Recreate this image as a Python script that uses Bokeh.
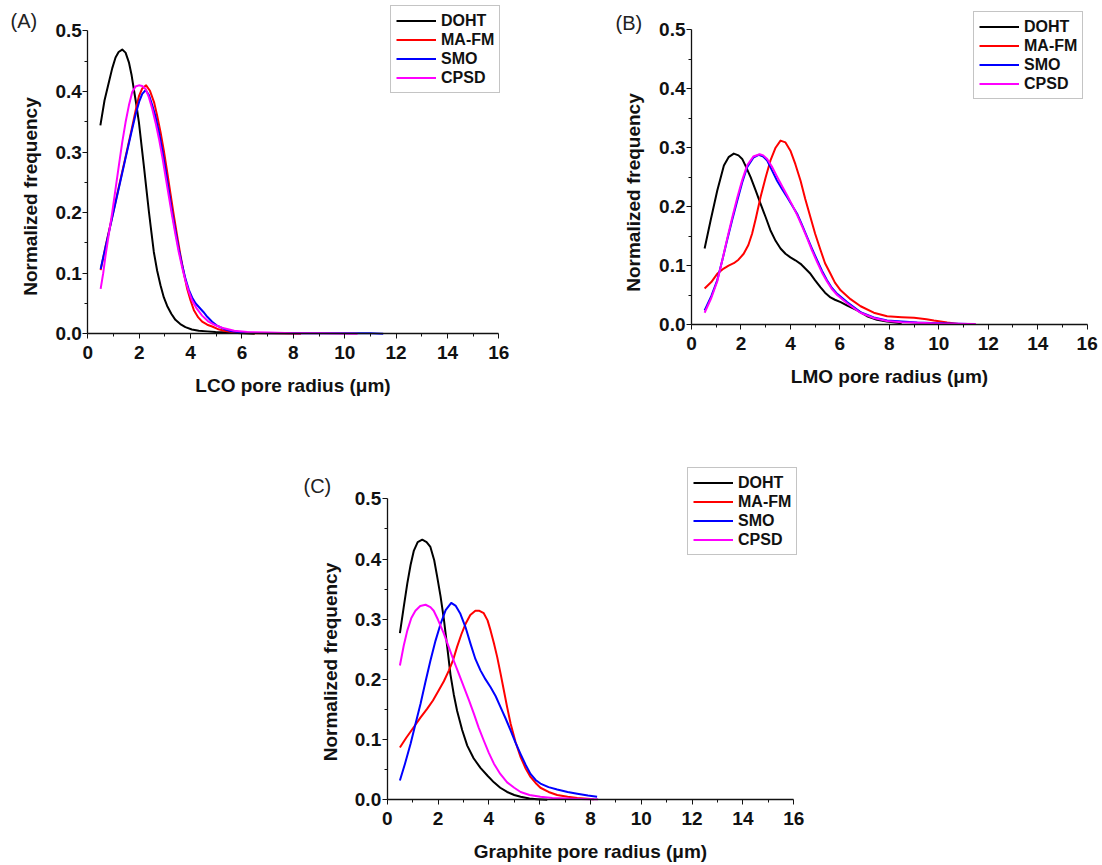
import math

from bokeh.plotting import figure
from bokeh.models import Range1d, FixedTicker, PrintfTickFormatter, Legend, LegendItem, Label
from bokeh.layouts import column, row
from bokeh.embed import file_html
from bokeh.resources import INLINE

# ---------------- data: normalized pore-size frequency ----------------
series_names = ["DOHT", "MA-FM", "SMO", "CPSD"]
series_colors = ["#000000", "#ff0000", "#0000ff", "#ff00ff"]

x_ticks = [0, 2, 4, 6, 8, 10, 12, 14, 16]
x_minor = [1, 3, 5, 7, 9, 11, 13, 15]
y_ticks = [0.0, 0.1, 0.2, 0.3, 0.4, 0.5]
y_minor = [0.05, 0.15, 0.25, 0.35, 0.45]

# (A) LCO
lco_doht_x = [0.49, 0.65, 0.82, 0.95, 1.08, 1.2, 1.34, 1.47, 1.6, 1.7, 1.79, 1.89, 1.99, 2.08, 2.18, 2.28,
              2.38, 2.48, 2.57, 2.7, 2.83, 2.96, 3.09, 3.25, 3.41, 3.6, 3.8, 4.05, 4.32, 4.65, 4.97, 5.5, 6.0, 6.5]
lco_doht_y = [0.344, 0.385, 0.415, 0.438, 0.456, 0.465, 0.469, 0.464, 0.448, 0.428, 0.404, 0.378, 0.349, 0.315,
              0.278, 0.239, 0.201, 0.166, 0.135, 0.104, 0.08, 0.06, 0.046, 0.033, 0.023, 0.016, 0.011, 0.007,
              0.005, 0.004, 0.003, 0.002, 0.001, 0.0]
lco_mafm_x = [0.5, 0.7, 0.95, 1.2, 1.47, 1.7, 1.86, 1.99, 2.12, 2.27, 2.42, 2.58, 2.7, 2.83, 2.96, 3.09, 3.22,
              3.35, 3.48, 3.61, 3.74, 3.87, 4.0, 4.13, 4.3, 4.45, 4.65, 4.84, 5.05, 5.3, 5.6, 6.0, 6.5, 7.0, 8.3]
lco_mafm_y = [0.105, 0.146, 0.193, 0.241, 0.292, 0.336, 0.368, 0.392, 0.405, 0.41, 0.401, 0.382, 0.36, 0.333,
              0.302, 0.267, 0.231, 0.195, 0.161, 0.129, 0.1, 0.074, 0.055, 0.039, 0.027, 0.02, 0.015, 0.012,
              0.008, 0.005, 0.003, 0.002, 0.001, 0.001, 0.0]
lco_smo_x = [0.5, 0.7, 0.95, 1.2, 1.47, 1.7, 1.86, 2.0, 2.12, 2.25, 2.38, 2.51, 2.64, 2.77, 2.9, 3.02, 3.15,
             3.28, 3.41, 3.54, 3.67, 3.8, 3.93, 4.06, 4.2, 4.35, 4.5, 4.65, 4.84, 5.05, 5.3, 5.6, 6.0, 6.5,
             7.0, 8.0, 9.0, 10.0, 11.0, 11.5]
lco_smo_y = [0.107, 0.145, 0.192, 0.239, 0.29, 0.333, 0.362, 0.383, 0.396, 0.402, 0.394, 0.377, 0.358, 0.333,
             0.303, 0.272, 0.237, 0.201, 0.17, 0.14, 0.114, 0.091, 0.073, 0.06, 0.05, 0.043, 0.036, 0.028,
             0.02, 0.013, 0.008, 0.004, 0.002, 0.0015, 0.001, 0.001, 0.001, 0.001, 0.001, 0.0]
lco_cpsd_x = [0.5, 0.6, 0.69, 0.82, 0.95, 1.08, 1.21, 1.34, 1.47, 1.6, 1.73, 1.86, 1.99, 2.12, 2.25, 2.38,
              2.51, 2.64, 2.77, 2.9, 3.02, 3.15, 3.28, 3.41, 3.54, 3.67, 3.8, 3.93, 4.06, 4.25, 4.45, 4.7,
              4.97, 5.3, 5.7, 6.2, 7.0, 8.0, 9.0, 10.5]
lco_cpsd_y = [0.074, 0.1, 0.129, 0.165, 0.2, 0.239, 0.278, 0.316, 0.349, 0.377, 0.399, 0.408, 0.41, 0.409,
              0.404, 0.39, 0.371, 0.348, 0.322, 0.292, 0.261, 0.228, 0.195, 0.164, 0.135, 0.11, 0.088, 0.07,
              0.055, 0.041, 0.03, 0.02, 0.014, 0.009, 0.005, 0.003, 0.002, 0.001, 0.001, 0.0]

# (B) LMO
lmo_doht_x = [0.53, 0.77, 1.04, 1.31, 1.5, 1.71, 1.9, 2.05, 2.2, 2.39, 2.59, 2.79, 3.0, 3.19, 3.4, 3.6, 3.8,
              4.0, 4.2, 4.41, 4.6, 4.81, 5.0, 5.22, 5.4, 5.62, 5.8, 6.03, 6.3, 6.7, 7.1, 7.5, 7.9, 8.5]
lmo_doht_y = [0.129, 0.176, 0.227, 0.27, 0.284, 0.29, 0.287, 0.281, 0.268, 0.25, 0.228, 0.205, 0.182, 0.16,
              0.142, 0.129, 0.12, 0.114, 0.109, 0.103, 0.095, 0.086, 0.075, 0.063, 0.054, 0.046, 0.042, 0.038,
              0.032, 0.024, 0.014, 0.008, 0.005, 0.002]
lmo_mafm_x = [0.53, 0.8, 1.04, 1.3, 1.5, 1.71, 1.9, 2.11, 2.3, 2.45, 2.6, 2.79, 3.0, 3.19, 3.4, 3.6, 3.8, 4.0,
              4.2, 4.41, 4.6, 4.81, 5.0, 5.22, 5.4, 5.62, 5.8, 6.03, 6.43, 6.84, 7.37, 7.91, 8.5, 9.0, 9.5,
              9.8, 10.34, 10.8]
lmo_mafm_y = [0.061, 0.072, 0.086, 0.095, 0.1, 0.104, 0.11, 0.12, 0.135, 0.154, 0.18, 0.216, 0.25, 0.278,
              0.3, 0.312, 0.309, 0.295, 0.272, 0.244, 0.213, 0.182, 0.154, 0.126, 0.104, 0.086, 0.071, 0.058,
              0.043, 0.031, 0.02, 0.014, 0.0125, 0.0113, 0.009, 0.0068, 0.0034, 0.001]
lmo_smo_x = [0.53, 0.8, 1.04, 1.24, 1.44, 1.65, 1.85, 2.05, 2.25, 2.5, 2.72, 2.9, 3.06, 3.25, 3.46, 3.66, 3.87,
             4.07, 4.27, 4.47, 4.68, 4.88, 5.08, 5.28, 5.48, 5.68, 5.89, 6.29, 6.83, 7.37, 7.91, 8.5, 9.13,
             10.0, 11.2]
lmo_smo_y = [0.024, 0.048, 0.075, 0.108, 0.143, 0.178, 0.21, 0.241, 0.267, 0.283, 0.288, 0.285, 0.278, 0.262,
             0.244, 0.23, 0.216, 0.202, 0.188, 0.169, 0.148, 0.128, 0.109, 0.091, 0.075, 0.062, 0.052, 0.038,
             0.021, 0.012, 0.007, 0.005, 0.0034, 0.002, 0.001]
lmo_cpsd_x = [0.53, 0.8, 1.04, 1.24, 1.44, 1.65, 1.85, 2.05, 2.25, 2.5, 2.76, 2.9, 3.06, 3.25, 3.46, 3.66, 3.87,
              4.07, 4.27, 4.47, 4.68, 4.88, 5.08, 5.28, 5.48, 5.68, 5.89, 6.29, 6.83, 7.37, 7.91, 8.5, 9.13,
              10.0, 11.5]
lmo_cpsd_y = [0.02, 0.045, 0.073, 0.108, 0.145, 0.182, 0.215, 0.245, 0.27, 0.285, 0.289, 0.287, 0.281, 0.268,
              0.251, 0.235, 0.219, 0.203, 0.186, 0.167, 0.146, 0.125, 0.106, 0.088, 0.073, 0.06, 0.05, 0.036,
              0.02, 0.011, 0.006, 0.004, 0.003, 0.0015, 0.001]

# (C) Graphite
gra_doht_x = [0.5, 0.65, 0.79, 0.92, 1.05, 1.2, 1.38, 1.55, 1.7, 1.85, 1.97, 2.1, 2.23, 2.36, 2.49, 2.62, 2.75,
              2.95, 3.15, 3.4, 3.67, 3.95, 4.2, 4.45, 4.72, 5.0, 5.25, 5.6, 5.9, 6.3]
gra_doht_y = [0.277, 0.32, 0.359, 0.39, 0.414, 0.428, 0.432, 0.428, 0.42, 0.398, 0.37, 0.338, 0.3, 0.255,
              0.208, 0.175, 0.148, 0.116, 0.09, 0.069, 0.053, 0.04, 0.029, 0.02, 0.013, 0.008, 0.005, 0.002,
              0.001, 0.0]
gra_mafm_x = [0.5, 0.75, 1.05, 1.3, 1.57, 1.8, 2.03, 2.23, 2.43, 2.6, 2.75, 2.92, 3.08, 3.27, 3.47, 3.63, 3.8,
              3.95, 4.07, 4.2, 4.33, 4.46, 4.59, 4.72, 4.86, 5.05, 5.25, 5.45, 5.64, 5.84, 6.03, 6.35, 6.69,
              7.1, 7.48, 8.13]
gra_mafm_y = [0.087, 0.103, 0.121, 0.136, 0.151, 0.165, 0.182, 0.197, 0.215, 0.233, 0.254, 0.275, 0.292,
              0.307, 0.314, 0.314, 0.31, 0.298, 0.281, 0.26, 0.237, 0.21, 0.182, 0.154, 0.126, 0.096, 0.071,
              0.052, 0.038, 0.028, 0.02, 0.013, 0.008, 0.005, 0.003, 0.001]
gra_smo_x = [0.5, 0.7, 0.92, 1.1, 1.31, 1.5, 1.7, 1.9, 2.1, 2.3, 2.52, 2.7, 2.88, 3.08, 3.28, 3.47, 3.67, 3.87,
             4.07, 4.27, 4.46, 4.66, 4.86, 5.05, 5.25, 5.45, 5.64, 5.84, 6.03, 6.35, 6.69, 7.1, 7.48, 7.9, 8.26]
gra_smo_y = [0.032, 0.06, 0.093, 0.124, 0.159, 0.195, 0.231, 0.264, 0.292, 0.315, 0.327, 0.322, 0.309, 0.287,
             0.259, 0.234, 0.215, 0.2, 0.187, 0.172, 0.154, 0.135, 0.115, 0.095, 0.076, 0.058, 0.043, 0.033,
             0.027, 0.021, 0.017, 0.013, 0.01, 0.007, 0.005]
gra_cpsd_x = [0.5, 0.65, 0.79, 0.95, 1.11, 1.3, 1.51, 1.7, 1.83, 2.0, 2.23, 2.42, 2.62, 2.82, 3.02, 3.22, 3.41,
              3.6, 3.8, 4.0, 4.2, 4.45, 4.72, 5.0, 5.25, 5.6, 6.03, 6.5, 7.08, 7.6, 8.13, 8.3]
gra_cpsd_y = [0.223, 0.256, 0.281, 0.302, 0.314, 0.322, 0.324, 0.32, 0.314, 0.299, 0.276, 0.254, 0.231, 0.209,
              0.187, 0.165, 0.143, 0.12, 0.0985, 0.078, 0.06, 0.043, 0.029, 0.02, 0.013, 0.008, 0.005, 0.003,
              0.002, 0.0015, 0.001, 0.001]

FONT = "Liberation Sans"
INK = "#111111"


def make_panel(width, height, x0, y0, px_x, px_y, xlabel, tag, tag_px, ylabel_px, curves, legend_xy):
    """One panel whose frame fills the whole canvas; the axes sit at x=0 / y=0.

    x0, y0: canvas pixel column / row where the data origin lies.
    px_x, px_y: pixels per data unit along each axis.
    tag_px, ylabel_px: canvas pixel centres of the panel letter and the y title.
    """
    def to_data(px, py):
        return (px - x0) / px_x, (y0 - py) / px_y

    p = figure(width=width, height=height, output_backend="svg", toolbar_location=None,
               x_range=Range1d(-x0 / px_x, (width - x0) / px_x),
               y_range=Range1d(-(height - y0) / px_y, y0 / px_y),
               min_border=0, min_border_left=0, min_border_right=0,
               min_border_top=0, min_border_bottom=0)
    p.outline_line_color = None
    p.grid.visible = False
    p.background_fill_color = "white"
    p.border_fill_color = "white"

    p.xaxis.fixed_location = 0
    p.yaxis.fixed_location = 0
    p.xaxis.bounds = (0, 16)
    p.yaxis.bounds = (0, 0.5)
    p.xaxis.ticker = FixedTicker(ticks=x_ticks, minor_ticks=x_minor)
    p.yaxis.ticker = FixedTicker(ticks=y_ticks, minor_ticks=y_minor)
    p.yaxis.formatter = PrintfTickFormatter(format="%.1f")
    for ax in (p.xaxis[0], p.yaxis[0]):
        ax.axis_line_color = INK
        ax.axis_line_width = 1.3
        ax.major_tick_line_color = INK
        ax.minor_tick_line_color = INK
        ax.major_tick_out = 5
        ax.major_tick_in = 0
        ax.minor_tick_out = 3
        ax.minor_tick_in = 0
        ax.major_label_text_font = FONT
        ax.major_label_text_font_style = "bold"
        ax.major_label_text_font_size = "19px"
        ax.major_label_text_color = INK
        ax.axis_label_text_font = FONT
        ax.axis_label_text_font_style = "bold"
        ax.axis_label_text_font_size = "19px"
        ax.axis_label_text_color = INK
    p.xaxis.major_label_standoff = 7
    p.yaxis.major_label_standoff = 1
    p.xaxis.axis_label_standoff = 13
    p.xaxis.axis_label = xlabel

    # y title sits a little below the middle of the axis
    lx, ly = to_data(*ylabel_px)
    p.add_layout(Label(x=lx, y=ly, text="Normalized frequency", angle=math.pi / 2,
                       text_font=FONT, text_font_style="bold", text_font_size="19px",
                       text_color=INK, text_align="center", text_baseline="middle"))

    items = []
    for (xs, ys), name, color in zip(curves, series_names, series_colors):
        r = p.line(xs, ys, line_color=color, line_width=2, line_join="round")
        items.append(LegendItem(label=name, renderers=[r]))

    legend = Legend(items=items, location=legend_xy,
                    label_text_font=FONT, label_text_font_style="bold",
                    label_text_font_size="16px", label_text_color=INK,
                    glyph_width=40, glyph_height=19, label_height=19,
                    label_standoff=5, padding=5, spacing=0, margin=0,
                    border_line_color="#8a8a8a", border_line_width=1,
                    background_fill_color="white", background_fill_alpha=1)
    p.add_layout(legend)

    # panel letter, up-left of the y axis
    tx, ty = to_data(*tag_px)
    p.add_layout(Label(x=tx, y=ty, text=tag, text_font=FONT, text_font_size="20px",
                       text_color="#222222", text_baseline="middle", text_align="left"))
    return p


pa = make_panel(551, 420, 87.3, 333.3, 25.69, 606.0, "LCO pore radius (\u03bcm)", "(A)", (10, 20), (29.5, 196),
                [(lco_doht_x, lco_doht_y), (lco_mafm_x, lco_mafm_y), (lco_smo_x, lco_smo_y),
                 (lco_cpsd_x, lco_cpsd_y)], (390, 327))
pb = make_panel(551, 420, 140.0, 324.0, 24.73, 589.3, "LMO pore radius (\u03bcm)", "(B)", (64, 22), (82, 192),
                [(lmo_doht_x, lmo_doht_y), (lmo_mafm_x, lmo_mafm_y), (lmo_smo_x, lmo_smo_y),
                 (lmo_cpsd_x, lmo_cpsd_y)], (422, 321))
pc = make_panel(1102, 445, 386.7, 379.3, 25.41, 602.0, "Graphite pore radius (\u03bcm)", "(C)", (303, 65),
                (329.5, 241.5),
                [(gra_doht_x, gra_doht_y), (gra_mafm_x, gra_mafm_y), (gra_smo_x, gra_smo_y),
                 (gra_cpsd_x, gra_cpsd_y)], (687, 310))

layout = column(row(pa, pb, spacing=0), pc, spacing=0)
open("out.html", "w").write(file_html(layout, INLINE))
